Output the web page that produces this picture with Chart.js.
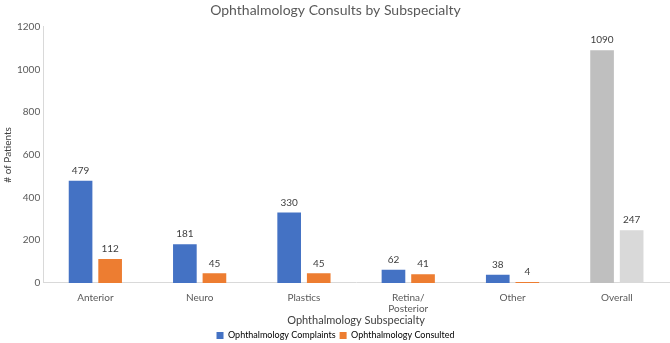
<!DOCTYPE html>
<html>
<head>
<meta charset="utf-8">
<script src="https://cdn.jsdelivr.net/npm/chart.js@4/dist/chart.umd.min.js"></script>
<style>
  html, body { margin: 0; padding: 0; background: #fff; }
  #wrap { width: 670px; height: 343px; }
</style>
</head>
<body>
<div id="wrap"><canvas id="consultChart"></canvas></div>
<script>
"use strict";

// Дані з графіка
const categories = ['Anterior', 'Neuro', 'Plastics', ['Retina/', 'Posterior'], 'Other', 'Overall'];
const complaints = [479, 181, 330, 62, 38, 1090];
const consulted = [112, 45, 45, 41, 4, 247];
const yTicks = [0, 200, 400, 600, 800, 1000, 1200];

const BLUE = '#4472C4';
const ORANGE = '#ED7D31';
const FONT = 'Lato, "Open Sans", sans-serif';

// Остання категорія (Overall) сіра
const blueColors = complaints.map((v, i) => i === complaints.length - 1 ? '#BFBFBF' : BLUE);
const orangeColors = consulted.map((v, i) => i === consulted.length - 1 ? '#D9D9D9' : ORANGE);

// Підписи значень над стовпчиками
const valueLabels = {
    id: 'valueLabels',
    afterDatasetsDraw(chart) {
        const ctx = chart.ctx;
        ctx.save();
        ctx.font = '10px ' + FONT;
        ctx.fillStyle = '#404040';
        ctx.textAlign = 'center';
        ctx.textBaseline = 'bottom';
        chart.data.datasets.forEach((ds, di) => {
            chart.getDatasetMeta(di).data.forEach((bar, i) => {
                ctx.fillText(ds.data[i], bar.x, bar.y - 5);
            });
        });
        ctx.restore();
    }
};

new Chart(document.getElementById('consultChart'), {
    type: 'bar',
    data: {
        labels: categories,
        datasets: [
            { label: 'Ophthalmology Complaints', data: complaints, backgroundColor: blueColors },
            { label: 'Ophthalmology Consulted', data: consulted, backgroundColor: orangeColors }
        ]
    },
    options: {
        responsive: true,
        maintainAspectRatio: false,
        animation: false,
        categoryPercentage: 0.567,
        barPercentage: 0.8,
        layout: { padding: { top: 0, right: 1, left: 2, bottom: -7 } },
        scales: {
            x: {
                grid: { display: false, drawTicks: false },
                border: { color: '#D9D9D9' },
                ticks: { color: '#595959', font: { family: FONT, size: 10, lineHeight: 1.1 }, padding: 9, maxRotation: 0 },
                title: { display: true, text: 'Ophthalmology Subspecialty', color: '#404040', font: { family: FONT, size: 11, lineHeight: 1.1 }, padding: { top: -8, bottom: 0 } }
            },
            y: {
                min: 0,
                max: 1200,
                afterBuildTicks: axis => { axis.ticks = yTicks.map(v => ({ value: v })); },
                grid: { display: false, drawTicks: false },
                border: { color: '#D9D9D9' },
                ticks: { color: '#595959', font: { family: FONT, size: 10 }, padding: 3, callback: v => String(v) },
                title: { display: true, text: '# of Patients', color: '#404040', font: { family: FONT, size: 10 }, padding: 0 }
            }
        },
        plugins: {
            title: {
                display: true,
                text: 'Ophthalmology Consults by Subspecialty',
                color: '#595959',
                font: { family: FONT, size: 14, weight: 'normal' },
                padding: { top: 2, bottom: 8 }
            },
            legend: {
                position: 'bottom',
                labels: {
                    color: '#595959',
                    font: { family: FONT, size: 9 },
                    boxWidth: 7,
                    boxHeight: 7,
                    padding: 4,
                    generateLabels: () => [
                        { text: 'Ophthalmology Complaints', fillStyle: BLUE, strokeStyle: BLUE, lineWidth: 0, datasetIndex: 0 },
                        { text: 'Ophthalmology Consulted', fillStyle: ORANGE, strokeStyle: ORANGE, lineWidth: 0, datasetIndex: 1 }
                    ]
                }
            },
            tooltip: { enabled: false }
        }
    },
    plugins: [valueLabels]
});
</script>
</body>
</html>
